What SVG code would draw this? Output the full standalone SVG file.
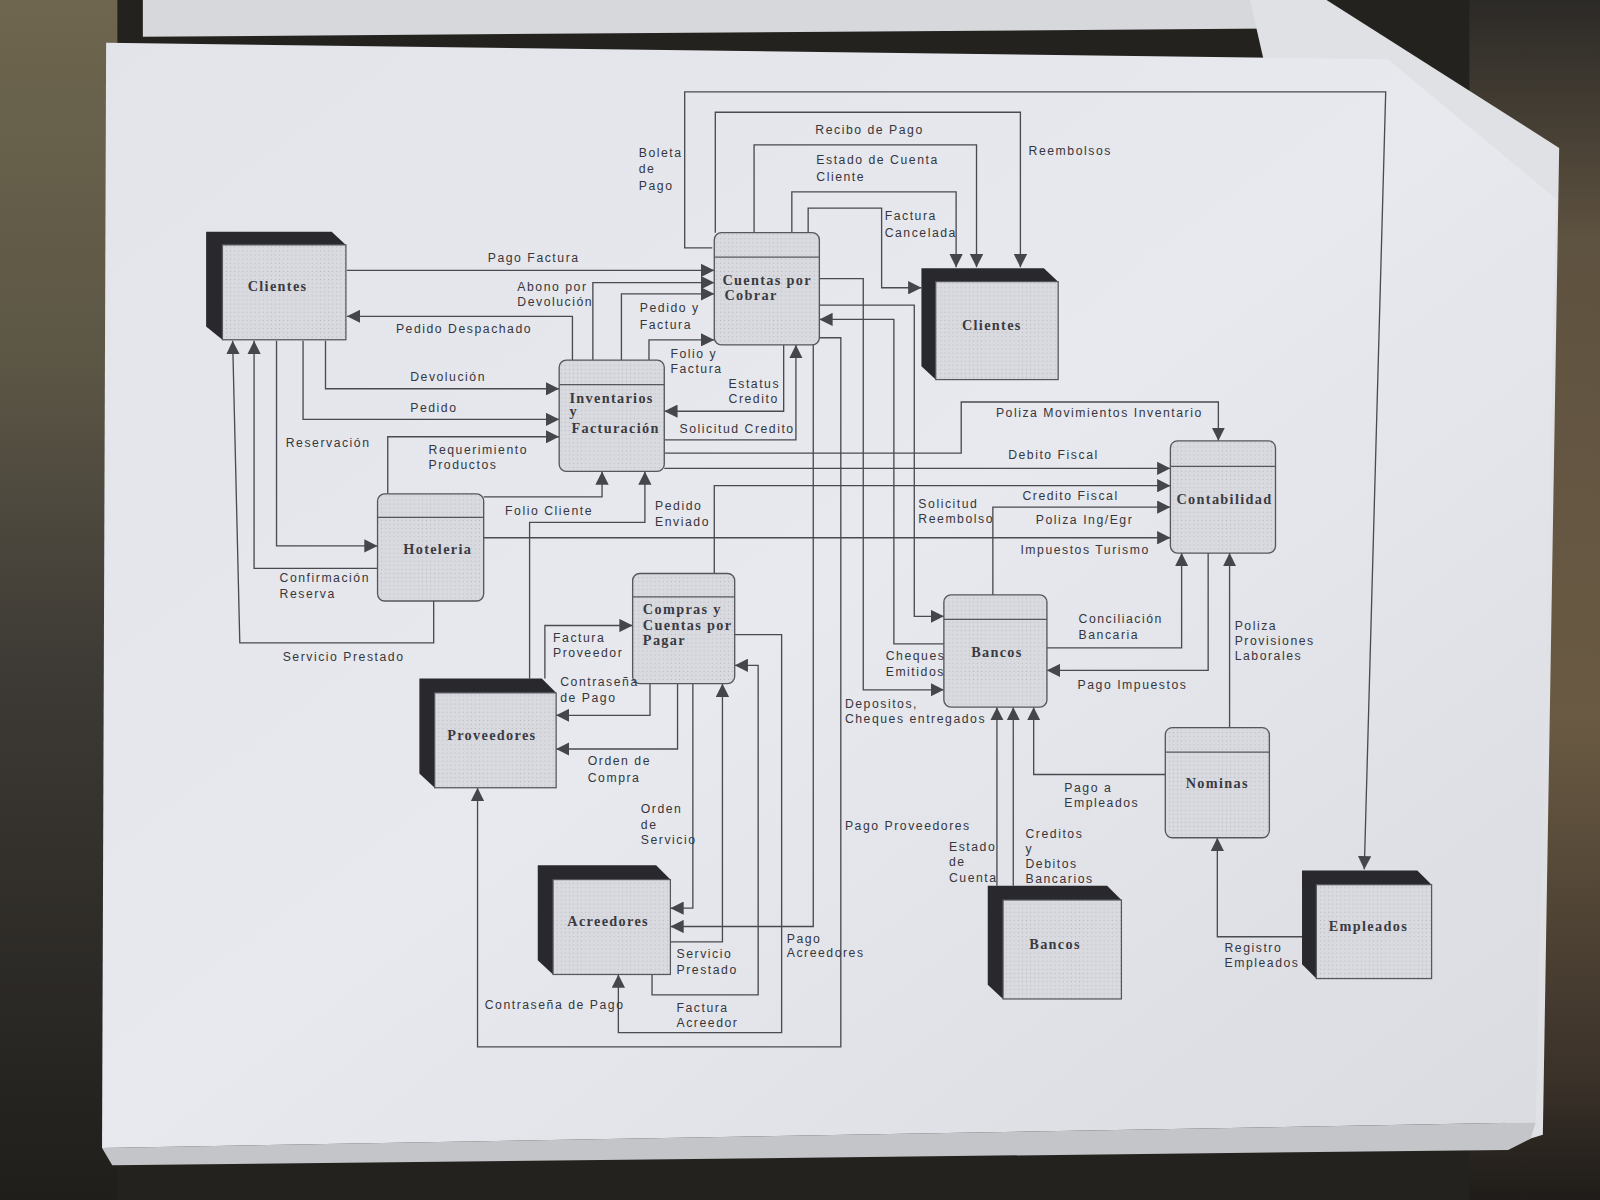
<svg xmlns="http://www.w3.org/2000/svg" width="1600" height="1200" viewBox="0 0 1600 1200">
<defs>
<style>
.c{fill:none;stroke:#4a4a51;stroke-width:1.3;marker-end:url(#ah)}
.lb{font-family:'Liberation Sans',Arial,sans-serif;font-size:12px;letter-spacing:1.5px;fill:#36363d}
.nd{font-family:'Liberation Serif','Times New Roman',serif;font-size:14px;font-weight:bold;letter-spacing:1.3px;fill:#3a3a42}
.proc{fill:url(#dots);stroke:#56565e;stroke-width:1.3}
.face{fill:url(#dots);stroke:#56565e;stroke-width:1.2}
.back{fill:#28282d}
.hd{stroke:#56565e;stroke-width:1.2}
</style>
<pattern id="dots" width="4" height="4" patternUnits="userSpaceOnUse">
<rect width="4" height="4" fill="#d9dadf"/>
<circle cx="2" cy="2" r="0.6" fill="#b9bac0"/>
</pattern>
<marker id="ah" viewBox="0 0 10 10" refX="10" refY="5" markerWidth="13" markerHeight="13" markerUnits="userSpaceOnUse" orient="auto">
<path d="M0,0 L10,5 L0,10 z" fill="#45454c"/>
</marker>
<linearGradient id="gl" x1="0" y1="0" x2="0" y2="1">
<stop offset="0" stop-color="#6e664e"/>
<stop offset="0.3" stop-color="#5c5645"/>
<stop offset="0.55" stop-color="#3e3b36"/>
<stop offset="1" stop-color="#201e1b"/>
</linearGradient>
<linearGradient id="gr" x1="0" y1="0" x2="0" y2="1">
<stop offset="0" stop-color="#2c2a27"/>
<stop offset="0.2" stop-color="#5e5240"/>
<stop offset="0.6" stop-color="#6a5a43"/>
<stop offset="0.9" stop-color="#3a3129"/>
<stop offset="1" stop-color="#1f1c19"/>
</linearGradient>
<linearGradient id="gp" x1="0" y1="0" x2="1" y2="1">
<stop offset="0" stop-color="#e2e4ea"/>
<stop offset="0.5" stop-color="#e7e9ee"/>
<stop offset="1" stop-color="#d9dbe1"/>
</linearGradient>
</defs>
<g transform="scale(1.0204)">
<rect x="0" y="0" width="1568" height="1176" fill="#24221f"/>
<rect x="0" y="0" width="115" height="1176" fill="url(#gl)"/>
<rect x="1440" y="0" width="128" height="1176" fill="url(#gr)"/>
<polygon points="140,0 1228,0 1245,28 140,36" fill="#d6d8dc"/>
<polygon points="1225,0 1300,0 1528,145 1512,1112 1480,1122" fill="#e0e1e4"/>
<polygon points="100,1125 1505,1100 1500,1116 1478,1127 110,1142" fill="#c4c5c8"/>
<polygon points="104,42 1360,58 1525,195 1505,1100 100,1125" fill="url(#gp)"/>

<g id="connectors">
<polyline class="c" points="698,243 671,243 671,90 1358,90 1337,852"/>
<polyline class="c" points="701,228 701,110 1000,110 1000,262"/>
<polyline class="c" points="739,228 739,142 957,142 957,262"/>
<polyline class="c" points="776,228 776,188 937,188 937,262"/>
<polyline class="c" points="792,228 792,204 864,204 864,282 903,282"/>
<polyline class="c" points="340,265 700,265"/>
<polyline class="c" points="581,353 581,277 700,277"/>
<polyline class="c" points="609,353 609,288 700,288"/>
<polyline class="c" points="636,353 636,333 700,333"/>
<polyline class="c" points="561,353 561,310 340,310"/>
<polyline class="c" points="319,334 319,381 548,381"/>
<polyline class="c" points="297,334 297,411 548,411"/>
<polyline class="c" points="380,484 380,428 548,428"/>
<polyline class="c" points="271,334 271,535 370,535"/>
<polyline class="c" points="370,557 249,557 249,334"/>
<polyline class="c" points="425,589 425,630 235,630 228,334"/>
<polyline class="c" points="474,487 590,487 590,462"/>
<polyline class="c" points="519,665 519,512 632,512 632,462"/>
<polyline class="c" points="474,527 1147,527"/>
<polyline class="c" points="768,338 768,403 651,403"/>
<polyline class="c" points="651,431 780,431 780,338"/>
<polyline class="c" points="651,444 942,444 942,394 1194,394 1194,432"/>
<polyline class="c" points="651,459 1147,459"/>
<polyline class="c" points="700,562 700,476 1147,476"/>
<polyline class="c" points="973,583 973,497 1147,497"/>
<polyline class="c" points="803,273 846,273 846,676 925,676"/>
<polyline class="c" points="803,299 896,299 896,604 925,604"/>
<polyline class="c" points="925,631 876,631 876,313 803,313"/>
<polyline class="c" points="803,331 824,331 824,1026 468,1026 468,772"/>
<polyline class="c" points="797,338 797,908 657,908"/>
<polyline class="c" points="1026,635 1158,635 1158,542"/>
<polyline class="c" points="1184,542 1184,657 1026,657"/>
<polyline class="c" points="1205,713 1205,542"/>
<polyline class="c" points="1142,759 1013,759 1013,693"/>
<polyline class="c" points="977,868 977,693"/>
<polyline class="c" points="993,868 993,693"/>
<polyline class="c" points="1277,918 1193,918 1193,821"/>
<polyline class="c" points="534,665 534,613 620,613"/>
<polyline class="c" points="637,670 637,701 545,701"/>
<polyline class="c" points="664,670 664,734 545,734"/>
<polyline class="c" points="679,670 679,890 657,890"/>
<polyline class="c" points="657,923 708,923 708,670"/>
<polyline class="c" points="720,622 766,622 766,1012 606,1012 606,955"/>
<polyline class="c" points="639,955 639,975 743,975 743,652 720,652"/>
</g>

<g id="node-clientes-1">
<polygon class="back" points="202,227 325,227 339,240 339,333 218,333 202,320"/>
<rect class="face" x="218" y="240" width="121" height="93"/>
<text class="nd" x="272" y="285" text-anchor="middle">Clientes</text>
</g>
<g id="node-clientes-2">
<polygon class="back" points="903,263 1023,263 1037,276 1037,372 917,372 903,359"/>
<rect class="face" x="917" y="276" width="120" height="96"/>
<text class="nd" x="972" y="323" text-anchor="middle">Clientes</text>
</g>
<g id="node-proveedores">
<polygon class="back" points="411,665 531,665 545,679 545,772 426,772 411,758"/>
<rect class="face" x="426" y="679" width="119" height="93"/>
<text class="nd" x="482" y="725" text-anchor="middle">Proveedores</text>
</g>
<g id="node-acreedores">
<polygon class="back" points="527,848 643,848 657,862 657,955 542,955 527,941"/>
<rect class="face" x="542" y="862" width="115" height="93"/>
<text class="nd" x="596" y="907" text-anchor="middle">Acreedores</text>
</g>
<g id="node-bancos-ext">
<polygon class="back" points="968,868 1085,868 1099,882 1099,979 983,979 968,965"/>
<rect class="face" x="983" y="882" width="116" height="97"/>
<text class="nd" x="1034" y="930" text-anchor="middle">Bancos</text>
</g>
<g id="node-empleados">
<polygon class="back" points="1276,853 1389,853 1403,867 1403,959 1290,959 1276,945"/>
<rect class="face" x="1290" y="867" width="113" height="92"/>
<text class="nd" x="1341" y="912" text-anchor="middle">Empleados</text>
</g>

<g id="node-cxc">
<rect class="proc" x="700" y="228" width="103" height="110" rx="7"/>
<line class="hd" x1="700" y1="252" x2="803" y2="252"/>
<text class="nd" x="708" y="279">Cuentas por</text>
<text class="nd" x="710" y="294">Cobrar</text>
</g>
<g id="node-inventarios">
<rect class="proc" x="548" y="353" width="103" height="109" rx="7"/>
<line class="hd" x1="548" y1="377" x2="651" y2="377"/>
<text class="nd" x="558" y="395">Inventarios</text>
<text class="nd" x="558" y="408">y</text>
<text class="nd" x="560" y="424">Facturación</text>
</g>
<g id="node-hoteleria">
<rect class="proc" x="370" y="484" width="104" height="105" rx="7"/>
<line class="hd" x1="370" y1="507" x2="474" y2="507"/>
<text class="nd" x="429" y="543" text-anchor="middle">Hoteleria</text>
</g>
<g id="node-contabilidad">
<rect class="proc" x="1147" y="432" width="103" height="110" rx="7"/>
<line class="hd" x1="1147" y1="457" x2="1250" y2="457"/>
<text class="nd" x="1200" y="494" text-anchor="middle">Contabilidad</text>
</g>
<g id="node-compras">
<rect class="proc" x="620" y="562" width="100" height="108" rx="7"/>
<line class="hd" x1="620" y1="585" x2="720" y2="585"/>
<text class="nd" x="630" y="602">Compras y</text>
<text class="nd" x="630" y="617">Cuentas por</text>
<text class="nd" x="630" y="632">Pagar</text>
</g>
<g id="node-bancos">
<rect class="proc" x="925" y="583" width="101" height="110" rx="7"/>
<line class="hd" x1="925" y1="607" x2="1026" y2="607"/>
<text class="nd" x="977" y="644" text-anchor="middle">Bancos</text>
</g>
<g id="node-nominas">
<rect class="proc" x="1142" y="713" width="102" height="108" rx="7"/>
<line class="hd" x1="1142" y1="737" x2="1244" y2="737"/>
<text class="nd" x="1193" y="772" text-anchor="middle">Nominas</text>
</g>

<g id="labels">
<text class="lb" x="626" y="154">Boleta</text>
<text class="lb" x="626" y="170">de</text>
<text class="lb" x="626" y="186">Pago</text>
<text class="lb" x="799" y="131">Recibo de Pago</text>
<text class="lb" x="1008" y="152">Reembolsos</text>
<text class="lb" x="800" y="161">Estado de Cuenta</text>
<text class="lb" x="800" y="177">Cliente</text>
<text class="lb" x="867" y="216">Factura</text>
<text class="lb" x="867" y="232">Cancelada</text>
<text class="lb" x="478" y="257">Pago Factura</text>
<text class="lb" x="507" y="285">Abono por</text>
<text class="lb" x="507" y="300">Devolución</text>
<text class="lb" x="627" y="306">Pedido y</text>
<text class="lb" x="627" y="322">Factura</text>
<text class="lb" x="388" y="326">Pedido Despachado</text>
<text class="lb" x="657" y="351">Folio y</text>
<text class="lb" x="657" y="366">Factura</text>
<text class="lb" x="402" y="373">Devolución</text>
<text class="lb" x="714" y="380">Estatus</text>
<text class="lb" x="714" y="395">Credito</text>
<text class="lb" x="402" y="404">Pedido</text>
<text class="lb" x="666" y="424">Solicitud Credito</text>
<text class="lb" x="280" y="438">Reservación</text>
<text class="lb" x="420" y="445">Requerimiento</text>
<text class="lb" x="420" y="460">Productos</text>
<text class="lb" x="976" y="409">Poliza Movimientos Inventario</text>
<text class="lb" x="988" y="450">Debito Fiscal</text>
<text class="lb" x="1002" y="490">Credito Fiscal</text>
<text class="lb" x="900" y="498">Solicitud</text>
<text class="lb" x="900" y="513">Reembolso</text>
<text class="lb" x="1015" y="514">Poliza Ing/Egr</text>
<text class="lb" x="1000" y="543">Impuestos Turismo</text>
<text class="lb" x="495" y="505">Folio Cliente</text>
<text class="lb" x="642" y="500">Pedido</text>
<text class="lb" x="642" y="515">Enviado</text>
<text class="lb" x="274" y="570">Confirmación</text>
<text class="lb" x="274" y="586">Reserva</text>
<text class="lb" x="277" y="648">Servicio Prestado</text>
<text class="lb" x="542" y="629">Factura</text>
<text class="lb" x="542" y="644">Proveedor</text>
<text class="lb" x="549" y="672">Contraseña</text>
<text class="lb" x="549" y="688">de Pago</text>
<text class="lb" x="1057" y="611">Conciliación</text>
<text class="lb" x="1057" y="626">Bancaria</text>
<text class="lb" x="1210" y="617">Poliza</text>
<text class="lb" x="1210" y="632">Provisiones</text>
<text class="lb" x="1210" y="647">Laborales</text>
<text class="lb" x="868" y="647">Cheques</text>
<text class="lb" x="868" y="662">Emitidos</text>
<text class="lb" x="1056" y="675">Pago Impuestos</text>
<text class="lb" x="828" y="694">Depositos,</text>
<text class="lb" x="828" y="709">Cheques entregados</text>
<text class="lb" x="576" y="750">Orden de</text>
<text class="lb" x="576" y="766">Compra</text>
<text class="lb" x="1043" y="776">Pago a</text>
<text class="lb" x="1043" y="791">Empleados</text>
<text class="lb" x="628" y="797">Orden</text>
<text class="lb" x="628" y="812">de</text>
<text class="lb" x="628" y="827">Servicio</text>
<text class="lb" x="828" y="813">Pago Proveedores</text>
<text class="lb" x="930" y="834">Estado</text>
<text class="lb" x="930" y="849">de</text>
<text class="lb" x="930" y="864">Cuenta</text>
<text class="lb" x="1005" y="821">Creditos</text>
<text class="lb" x="1005" y="836">y</text>
<text class="lb" x="1005" y="851">Debitos</text>
<text class="lb" x="1005" y="865">Bancarios</text>
<text class="lb" x="771" y="924">Pago</text>
<text class="lb" x="771" y="938">Acreedores</text>
<text class="lb" x="663" y="939">Servicio</text>
<text class="lb" x="663" y="955">Prestado</text>
<text class="lb" x="1200" y="933">Registro</text>
<text class="lb" x="1200" y="948">Empleados</text>
<text class="lb" x="475" y="989">Contraseña de Pago</text>
<text class="lb" x="663" y="992">Factura</text>
<text class="lb" x="663" y="1006">Acreedor</text>
</g>
</g>
</svg>
